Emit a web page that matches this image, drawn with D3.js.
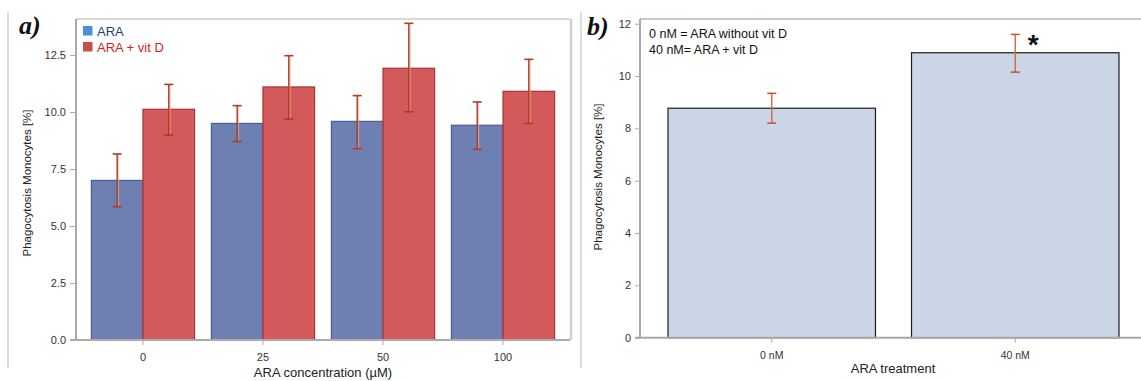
<!DOCTYPE html>
<html>
<head>
<meta charset="utf-8">
<script src="https://cdn.jsdelivr.net/npm/d3@7"></script>
<style>
  html, body { margin: 0; padding: 0; background: #fff; }
  svg { display: block; font-family: "Liberation Sans", Arial, sans-serif; }
</style>
</head>
<body>
<svg id="chart" width="1141" height="381"></svg>
<script>
// ---- Panel a data ----
const concentrations = ["0", "25", "50", "100"];
const seriesNames = ["ARA", "ARA + vit D"];
const araMeans = [7.0, 9.5, 9.59, 9.42];
const araLow = [5.85, 8.71, 8.39, 8.36];
const araHigh = [8.16, 10.28, 10.72, 10.44];
const vitMeans = [10.12, 11.10, 11.92, 10.91];
const vitLow = [8.99, 9.69, 10.01, 9.50];
const vitHigh = [11.21, 12.47, 13.89, 12.31];
const aTicks = [0, 2.5, 5, 7.5, 10, 12.5];

// ---- Panel b data ----
const treatments = ["0 nM", "40 nM"];
const treatMeans = [8.77, 10.89];
const treatLow = [8.2, 10.15];
const treatHigh = [9.34, 11.59];
const bTicks = [0, 2, 4, 6, 8, 10, 12];
const notes = ["0 nM = ARA without vit D", "40 nM= ARA + vit D"];

const svg = d3.select("#chart");

// frame lines
svg.append("line").attr("x1", 8).attr("x2", 8).attr("y1", 12).attr("y2", 368)
  .attr("stroke", "#dcdcdc").attr("stroke-width", 2);
svg.append("line").attr("x1", 581).attr("x2", 581).attr("y1", 12).attr("y2", 368)
  .attr("stroke", "#dcdcdc").attr("stroke-width", 2);

// ================= Panel a =================
const aL = 76, aR = 570, aT = 19, aB = 340;
const xa = d3.scaleBand().domain(concentrations).range([aL, aR])
  .paddingInner(0.14).paddingOuter(0.128);
const xs = d3.scaleBand().domain(seriesNames).range([0, xa.bandwidth()]);
const ya = d3.scaleLinear().domain([0, 14.08]).range([aB, aT]);

// plot border
svg.append("line").attr("x1", aL).attr("x2", aR).attr("y1", aT).attr("y2", aT)
  .attr("stroke", "#cccccc").attr("stroke-width", 1.5);
svg.append("line").attr("x1", aR + 1).attr("x2", aR + 1).attr("y1", aT).attr("y2", aB)
  .attr("stroke", "#cfcfcf").attr("stroke-width", 2.5);

const aData = concentrations.map((c, i) => [
  { c, s: seriesNames[0], v: araMeans[i], lo: araLow[i], hi: araHigh[i] },
  { c, s: seriesNames[1], v: vitMeans[i], lo: vitLow[i], hi: vitHigh[i] }
]).flat();

const fills = { "ARA": "#6e7fb2", "ARA + vit D": "#d35a5a" };
const strokes = { "ARA": "#4b5c9c", "ARA + vit D": "#a83434" };

svg.append("g").selectAll("rect").data(aData).join("rect")
  .attr("x", d => xa(d.c) + xs(d.s))
  .attr("y", d => ya(d.v))
  .attr("width", xs.bandwidth())
  .attr("height", d => ya(0) - ya(d.v))
  .attr("fill", d => fills[d.s])
  .attr("stroke", d => strokes[d.s])
  .attr("stroke-width", 1.2);

// error bars a
const eg = svg.append("g");
aData.forEach(d => {
  const cx = xa(d.c) + xs(d.s) + xs.bandwidth() / 2;
  const g = eg.append("g");
  g.append("line").attr("x1", cx + 1).attr("x2", cx + 1).attr("y1", ya(d.hi)).attr("y2", ya(d.lo))
    .attr("stroke", "#eab2a0").attr("stroke-width", 2).attr("opacity", 0.6);
  g.append("line").attr("x1", cx).attr("x2", cx).attr("y1", ya(d.hi)).attr("y2", ya(d.lo))
    .attr("stroke", "#ab3d1d").attr("stroke-width", 1.4);
  [d.hi, d.lo].forEach(v => {
    g.append("line").attr("x1", cx - 4.5).attr("x2", cx + 4.5).attr("y1", ya(v)).attr("y2", ya(v))
      .attr("stroke", "#ab3d1d").attr("stroke-width", 1.6);
  });
});

// axes a
const yAxA = svg.append("g").attr("transform", `translate(${aL},0)`)
  .call(d3.axisLeft(ya).tickValues(aTicks).tickFormat(d3.format(".1f")).tickSize(6).tickPadding(4));
const xAxA = svg.append("g").attr("transform", `translate(0,${aB})`)
  .call(d3.axisBottom(xa).tickSize(5).tickPadding(8));
[yAxA, xAxA].forEach(ax => {
  ax.select(".domain").attr("stroke", "#aaaaaa").attr("stroke-width", 2);
  ax.selectAll(".tick line").attr("stroke", "#aaaaaa");
  ax.selectAll(".tick text").attr("fill", "#333").attr("font-size", 11)
    .attr("font-family", "Liberation Sans, Arial, sans-serif");
});
yAxA.select(".domain").attr("d", `M0,${aT}V${aB}`);
xAxA.select(".domain").attr("d", `M${aL - 6},0H${aR}`);

svg.append("text").attr("x", (aL + aR) / 2).attr("y", 377).attr("text-anchor", "middle")
  .attr("font-size", 13).attr("fill", "#222").text("ARA concentration (µM)");
svg.append("text").attr("transform", `translate(31,183) rotate(-90)`).attr("text-anchor", "middle")
  .attr("font-size", 11.5).attr("fill", "#222").text("Phagocytosis Monocytes [%]");

// legend
const legColors = { "ARA": "#4a8fd8", "ARA + vit D": "#c44e4b" };
const legText = { "ARA": "#1e3e80", "ARA + vit D": "#d21f26" };
seriesNames.forEach((s, i) => {
  svg.append("rect").attr("x", 83).attr("y", 26 + i * 16).attr("width", 9.5).attr("height", 9.5)
    .attr("fill", legColors[s]);
  svg.append("text").attr("x", 97).attr("y", 35.5 + i * 16).attr("font-size", 13)
    .attr("fill", legText[s]).text(s);
});

svg.append("text").attr("x", 19).attr("y", 34).attr("font-family", "Liberation Serif, Times New Roman, serif")
  .attr("font-weight", "bold").attr("font-style", "italic").attr("font-size", 26).attr("fill", "#111").text("a)");

// ================= Panel b =================
const bL = 640, bR = 1147, bT = 19, bB = 337.7;
const xb = d3.scaleBand().domain(treatments).range([bL, bR]).paddingInner(0.148).paddingOuter(0.115);
const yb = d3.scaleLinear().domain([0, 12.18]).range([bB, bT]);

svg.append("line").attr("x1", bL).attr("x2", 1141).attr("y1", bT).attr("y2", bT)
  .attr("stroke", "#b5b5b5").attr("stroke-width", 1.5);

const bData = treatments.map((t, i) => ({ t, v: treatMeans[i], lo: treatLow[i], hi: treatHigh[i] }));

svg.append("g").selectAll("rect").data(bData).join("rect")
  .attr("x", d => xb(d.t))
  .attr("y", d => yb(d.v))
  .attr("width", xb.bandwidth())
  .attr("height", d => yb(0) - yb(d.v))
  .attr("fill", "#cad6e6")
  .attr("stroke", "#1d1d1d")
  .attr("stroke-width", 1.2);

bData.forEach(d => {
  const cx = xb(d.t) + xb.bandwidth() / 2;
  svg.append("line").attr("x1", cx).attr("x2", cx).attr("y1", yb(d.hi)).attr("y2", yb(d.lo))
    .attr("stroke", "#cf6a45").attr("stroke-width", 1.4);
  [d.hi, d.lo].forEach(v => {
    svg.append("line").attr("x1", cx - 4.5).attr("x2", cx + 4.5).attr("y1", yb(v)).attr("y2", yb(v))
      .attr("stroke", "#c4522c").attr("stroke-width", 1.5);
  });
});

// significance asterisk
svg.append("text").attr("x", xb(treatments[1]) + xb.bandwidth() / 2 + 18).attr("y", yb(treatHigh[1]) + 20)
  .attr("text-anchor", "middle").attr("font-size", 28).attr("font-weight", "bold").attr("fill", "#111").text("*");

const yAxB = svg.append("g").attr("transform", `translate(${bL},0)`)
  .call(d3.axisLeft(yb).tickValues(bTicks).tickFormat(d3.format("d")).tickSize(5).tickPadding(4));
const xAxB = svg.append("g").attr("transform", `translate(0,${bB})`)
  .call(d3.axisBottom(xb).tickSize(5).tickPadding(9));
[yAxB, xAxB].forEach(ax => {
  ax.select(".domain").attr("stroke", "#a8a8a8").attr("stroke-width", 2);
  ax.selectAll(".tick line").attr("stroke", "#aaaaaa");
  ax.selectAll(".tick text").attr("fill", "#333").attr("font-size", 11)
    .attr("font-family", "Liberation Sans, Arial, sans-serif");
});
yAxB.select(".domain").attr("d", `M0,${bT}V${bB}`);
xAxB.select(".domain").attr("d", `M${bL - 5},0H1141`);
xAxB.selectAll(".tick text").attr("font-size", 10.5);

svg.append("text").attr("x", 893).attr("y", 373).attr("text-anchor", "middle")
  .attr("font-size", 13).attr("fill", "#222").text("ARA treatment");
svg.append("text").attr("transform", `translate(602,177) rotate(-90)`).attr("text-anchor", "middle")
  .attr("font-size", 11.5).attr("fill", "#222").text("Phagocytosis Monocytes [%]");

notes.forEach((n, i) => {
  svg.append("text").attr("x", 649).attr("y", 38 + i * 15.5).attr("font-size", 12.5)
    .attr("fill", "#111").text(n);
});

svg.append("text").attr("x", 587).attr("y", 35).attr("font-family", "Liberation Serif, Times New Roman, serif")
  .attr("font-weight", "bold").attr("font-style", "italic").attr("font-size", 26).attr("fill", "#111").text("b)");
</script>
</body>
</html>
